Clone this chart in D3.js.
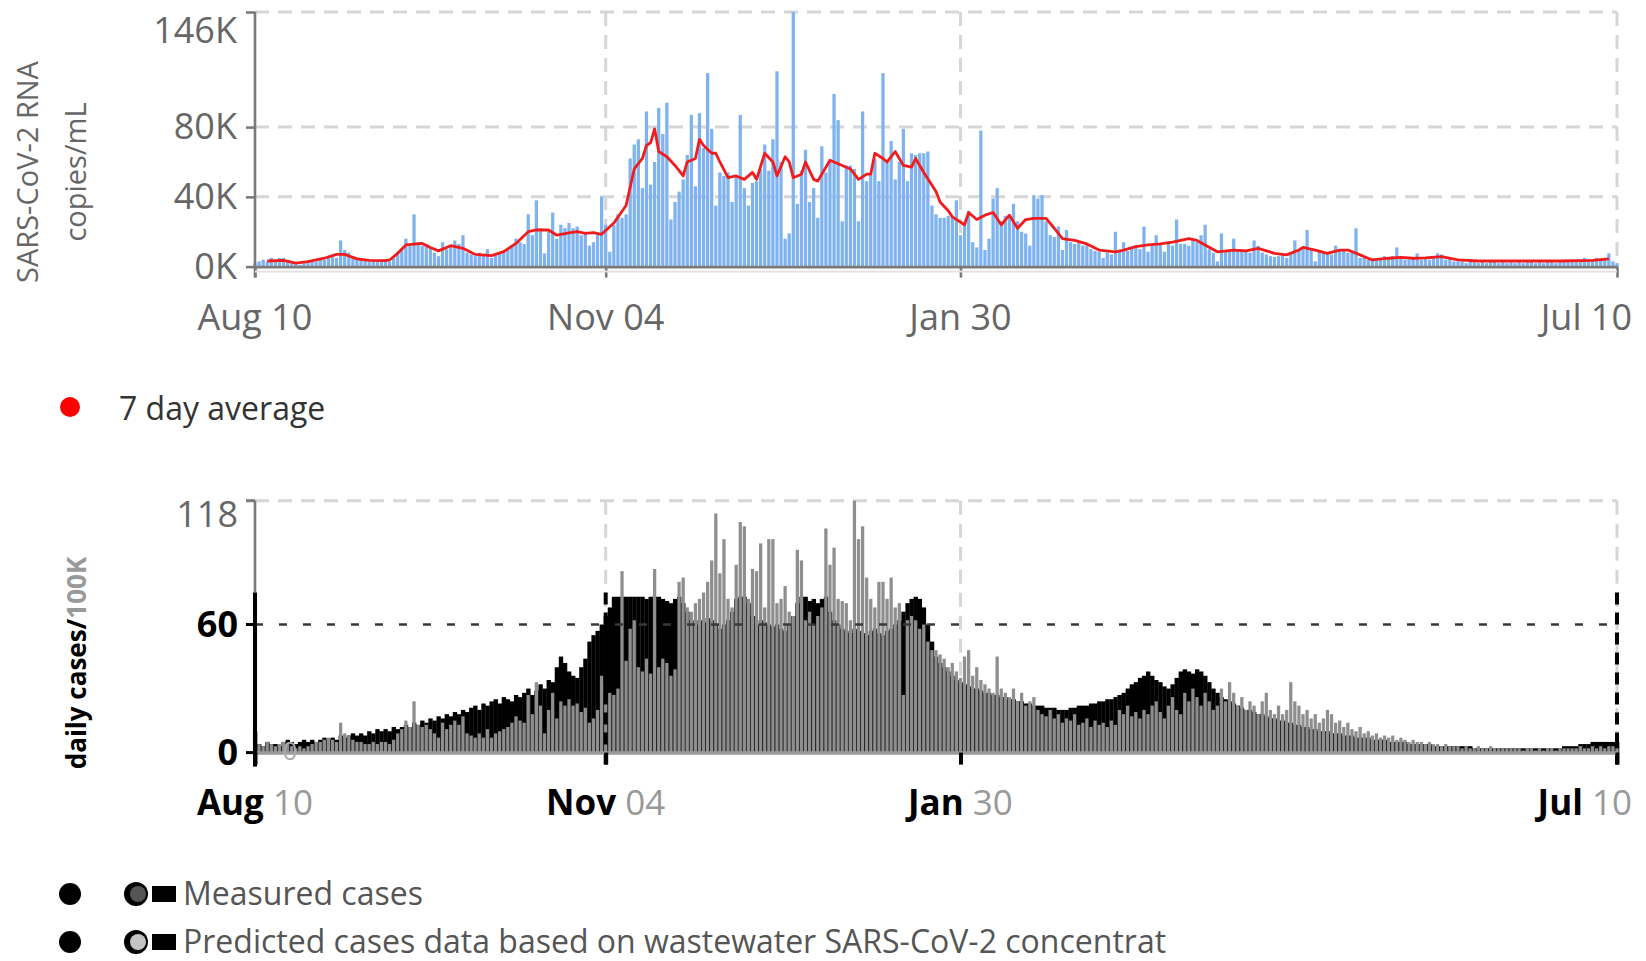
<!DOCTYPE html>
<html><head><meta charset="utf-8">
<script src="https://cdn.jsdelivr.net/npm/d3@7"></script>
<style>
body{margin:0;background:#fff}
svg{display:block}
text{font-family:"Open Sans","Noto Sans",sans-serif}
</style>
</head><body>
<svg id="c" width="1646" height="961"></svg>
<script>
// ---------- DATA ----------
const startDate = new Date(2020, 7, 10);
const endDate = new Date(2021, 6, 10);
const xTickDates = [new Date(2020, 7, 10), new Date(2020, 10, 4), new Date(2021, 0, 30), new Date(2021, 6, 10)];
const xTickLabels = ["Aug 10", "Nov 04", "Jan 30", "Jul 10"];

const rnaTicksK = [0, 40, 80, 146];
const rnaTickLabels = ["0K", "40K", "80K", "146K"];

// daily SARS-CoV-2 RNA (thousand copies/mL), Aug 10 2020 .. Jul 10 2021
const rnaDailyK = [
  2, 3, 4, 3, 5, 4, 5,
  5, 3, 2, 2, 1, 2, 2,
  3, 3, 4, 4, 5, 6, 5,
  15, 9.5, 8, 6, 5, 4, 4,
  3, 4, 3, 4, 4, 3, 5,
  8.5, 10, 16, 12, 30, 14, 12,
  13, 11, 8, 6, 14, 10, 12,
  15, 13, 18, 8, 7, 6, 8,
  6, 10, 5, 7, 8, 9, 10,
  12, 16, 14, 13, 30, 18, 38,
  22, 7.6, 20, 31, 16, 24, 22,
  25, 22, 23, 18, 20, 12, 14,
  19, 40, 24, 8.5, 24, 30, 28,
  30, 62, 70, 73, 45, 89, 47,
  60, 91, 76, 94, 27, 37, 43,
  50, 64, 87, 46, 88, 68, 111,
  79, 35, 54, 52, 54, 37, 52,
  87, 45, 35, 48, 49, 56, 70,
  55, 73, 112, 60, 16, 19, 146,
  36, 55, 67, 37, 45, 28, 69,
  54, 60, 99, 84, 26, 58, 58,
  56, 26, 89, 49, 53, 62, 49,
  111, 60, 72, 50, 60, 79, 49,
  65, 64, 65, 65, 66, 35, 30,
  28, 28, 29, 28, 38, 18, 25,
  32, 14, 11, 78, 9.5, 16, 39,
  45, 26, 29, 29, 36, 26, 20,
  19, 12, 41, 39, 41, 26, 18,
  17, 23, 9.5, 21, 14, 13, 14,
  12, 13, 10, 9, 8.5, 5, 8,
  7, 20, 9, 14, 9, 11, 12,
  10, 23, 8.5, 12, 18, 13, 8.5,
  14, 12, 27, 13, 13, 12, 16,
  14, 18, 24, 10, 8, 3, 19,
  9, 8.5, 16, 9, 10, 9, 8,
  15, 12, 8, 7, 6, 5.5, 6,
  7, 5, 8, 15, 10, 11, 21,
  10, 3, 9, 8, 8, 7, 12,
  9, 10, 8, 8, 22, 5, 5,
  4, 5, 4, 5, 6, 5, 6,
  11, 5, 4, 4, 5, 7.6, 4,
  5, 4, 5, 7.6, 7, 4, 5,
  3, 3, 3, 2, 3, 3, 2,
  3, 2, 3, 3, 2, 3, 2,
  3, 2, 3, 2, 3, 3, 2,
  3, 2, 3, 3, 2, 3, 3,
  3, 4, 3, 4, 5, 4, 4,
  5, 4, 5, 7.6, 3, 2
];

// 7 day average (day offset from Aug 10, value in K)
const avgDays = [3, 7, 10, 13, 17, 20, 22, 25, 28, 32, 33, 35, 37, 41, 43, 45, 48, 51, 54, 58, 61, 64, 67, 69, 72, 74, 77, 79, 81, 83, 85, 88, 91, 93, 95, 96, 97, 98, 99, 101, 103, 105, 106, 108, 109, 110, 112, 113, 114, 116, 118, 120, 122, 123, 125, 127, 128, 130, 131, 132, 134, 135, 137, 138, 141, 144, 146, 148, 150, 151, 152, 154, 155, 157, 159, 161, 162, 164, 167, 168, 170, 171, 174, 175, 177, 179, 181, 183, 185, 187, 189, 191, 194, 196, 198, 201, 204, 207, 211, 213, 216, 219, 222, 225, 229, 231, 233, 236, 240, 243, 246, 250, 253, 256, 257, 260, 263, 266, 268, 271, 274, 278, 281, 284, 287, 291, 295, 300, 310, 320, 328, 332];
const avgValuesK = [3.2, 3.6, 2, 2.9, 4.8, 7, 7, 4.4, 3.6, 3.4, 3.8, 7.6, 12.4, 13.3, 11, 9, 12, 10.5, 7, 6.3, 8.6, 13.3, 20, 21, 21, 18, 19.4, 20, 19, 19.5, 18.5, 25, 35, 56, 62, 69.5, 71, 79, 66, 63, 58, 52, 60, 62, 73, 69.5, 65, 65, 60, 51, 52, 50, 54, 50, 65, 60, 52, 63, 60, 51, 53, 60, 50, 49, 61, 58, 56, 50, 53, 53, 65, 62, 60, 66, 58, 57, 62, 54, 43, 37, 32, 28.5, 24, 31, 27, 29.5, 31, 24, 29.5, 22, 27, 27.6, 27.6, 22, 16, 15, 13, 9.5, 8.5, 9.5, 11.4, 12.4, 13, 14, 16, 15, 12.4, 8.5, 9.5, 9, 10.5, 7.6, 6.7, 9.5, 11, 9.5, 7.6, 9.5, 9.5, 6.7, 3.8, 4.8, 5.3, 4.8, 5, 5.7, 3.8, 3.2, 3.2, 3.2, 3.6, 4.4];

const caseTicks = [0, 60, 118];

// daily cases per 100K (measured), Aug 10 2020 .. Jul 10 2021
const measuredCases = [
  10, 4, 3, 5, 4, 4, 3,
  5, 6, 5, 4, 5, 6, 5,
  6, 5, 6, 7, 6, 7, 6,
  8, 7, 8, 9, 8, 9, 8,
  10, 9, 11, 10, 11, 10, 12,
  11, 12, 13, 12, 14, 13, 15,
  14, 16, 15, 17, 16, 18, 17,
  19, 18, 20, 19, 21, 22, 20,
  23, 22, 24, 25, 23, 26, 25,
  24, 27, 26, 28, 30, 27, 29,
  32, 30, 34, 33, 40, 45, 42,
  38, 36, 35, 40, 44, 52, 55,
  57, 60, 64, 68, 73, 73, 73,
  73, 73, 73, 73, 73, 72, 73,
  73, 73, 72, 71, 70, 72, 73,
  70, 66, 62, 60, 62, 61, 63,
  62, 60, 58, 60, 62, 66, 72,
  73, 73, 70, 64, 60, 62, 61,
  60, 59, 60, 58, 57, 60, 64,
  70, 73, 73, 71, 72, 70, 72,
  73, 66, 62, 60, 58, 57, 56,
  58, 57, 56, 55, 57, 58, 56,
  55, 57, 58, 60, 62, 66, 70,
  72, 73, 72, 68, 60, 52, 45,
  42, 40, 38, 36, 34, 33, 32,
  31, 30, 30, 29, 28, 28, 27,
  27, 26, 26, 25, 25, 24, 24,
  23, 23, 22, 22, 22, 21, 21,
  21, 20, 20, 20, 21, 21, 22,
  22, 22, 23, 23, 24, 24, 25,
  25, 26, 27, 28, 30, 32, 33,
  35, 36, 38, 36, 34, 33, 31,
  30, 32, 35, 38, 39, 38, 37,
  39, 38, 36, 33, 30, 28, 26,
  25, 24, 23, 22, 21, 20, 20,
  19, 18, 18, 17, 16, 16, 15,
  15, 14, 14, 13, 13, 12, 12,
  11, 11, 10, 10, 10, 9, 9,
  9, 8, 8, 8, 7, 7, 7,
  7, 6, 6, 6, 6, 5, 5,
  5, 5, 5, 4, 4, 4, 4,
  4, 4, 3, 3, 3, 3, 3,
  3, 3, 3, 3, 3, 2, 2,
  2, 2, 2, 2, 2, 2, 2,
  2, 2, 2, 2, 2, 2, 2,
  2, 2, 2, 2, 2, 2, 3,
  3, 3, 3, 4, 4, 4, 5,
  5, 5, 5, 5, 5, 5
];

// daily cases per 100K predicted from wastewater
const predictedCases = [
  3, 4, 3, 5, 4, 3, 4,
  5, 4, 3, 2, 3, 2, 3,
  4, 5, 5, 6, 7, 6, 5,
  14, 9, 8, 6, 5, 5, 4,
  4, 5, 4, 5, 5, 4, 6,
  9, 11, 15, 12, 24, 13, 12,
  13, 11, 9, 7, 14, 11, 13,
  15, 13, 17, 9, 8, 7, 9,
  7, 11, 7, 9, 10, 11, 12,
  14, 17, 15, 14, 27, 18, 33,
  22, 9, 20, 28, 16, 24, 22,
  25, 22, 23, 19, 21, 14, 16,
  20, 36, 24, 28, 27, 30, 85,
  43, 58, 62, 40, 38, 44, 37,
  86, 40, 44, 42, 36, 39, 80,
  82, 68, 66, 70, 72, 75, 80,
  90, 112, 84, 100, 72, 68, 88,
  108, 106, 72, 86, 85, 98, 68,
  100, 100, 70, 72, 78, 66, 64,
  95, 90, 62, 66, 60, 64, 68,
  105, 88, 96, 72, 71, 70, 62,
  118, 100, 106, 82, 72, 68, 80,
  80, 72, 82, 68, 70, 27, 62,
  64, 62, 58, 60, 52, 48, 48,
  46, 44, 40, 42, 38, 35, 45,
  48, 36, 40, 34, 32, 30, 28,
  45, 30, 28, 26, 30, 24, 28,
  22, 24, 26, 20, 18, 17, 20,
  16, 18, 14, 16, 15, 18, 13,
  14, 16, 12, 15, 13, 14, 12,
  15, 13, 20, 18, 22, 17, 19,
  16, 20, 18, 22, 24, 19, 16,
  22, 26, 20, 18, 28, 24, 30,
  26, 22, 28, 24, 20, 22, 30,
  24, 33, 28, 22, 26, 20, 24,
  22, 18, 24, 28, 20, 18, 22,
  18, 20, 33, 24, 22, 18, 20,
  16, 18, 14, 16, 20, 18, 14,
  15, 12, 14, 11, 10, 12, 9,
  10, 8, 9, 7, 8, 7, 8,
  6, 7, 6, 5, 6, 5, 5,
  4, 5, 4, 4, 3, 4, 3,
  3, 3, 2, 3, 2, 2, 3,
  2, 2, 3, 2, 2, 2, 2,
  2, 2, 2, 1, 2, 2, 1,
  2, 1, 2, 2, 1, 2, 2,
  2, 2, 2, 3, 2, 2, 3,
  2, 3, 2, 3, 3, 2
];

const legendTop = ["7 day average"];
const legendBottom = ["Measured cases", "Predicted cases data based on wastewater SARS-CoV-2 concentrat"];

// ---------- DRAW ----------
const svg = d3.select("#c");
const dayDate = i => d3.timeDay.offset(startDate, i);
const x = d3.scaleTime().domain([startDate, endDate]).range([255, 1617]);
const step = x(dayDate(1)) - x(dayDate(0));
const GRID = "#d6d6d6", AXIS = "#7a7a7a", TXT = "#666";

// ======= TOP CHART =======
const yT = d3.scaleLinear().domain([0, 146]).range([266.6, 12]);
const gT = svg.append("g");

gT.selectAll("line.hg").data(rnaTicksK.slice(1)).join("line")
  .attr("x1", x.range()[0]).attr("x2", x.range()[1])
  .attr("y1", d => yT(d)).attr("y2", d => yT(d))
  .attr("stroke", GRID).attr("stroke-width", 3).attr("stroke-dasharray", "14 9");
gT.selectAll("line.vg").data(xTickDates.slice(1)).join("line")
  .attr("x1", d => x(d)).attr("x2", d => x(d))
  .attr("y1", yT(146)).attr("y2", yT(0))
  .attr("stroke", GRID).attr("stroke-width", 3).attr("stroke-dasharray", "14 9");

gT.append("g").selectAll("rect").data(rnaDailyK).join("rect")
  .attr("x", (d, i) => x(dayDate(i)) - step * 0.4)
  .attr("width", step * 0.8)
  .attr("y", d => yT(d))
  .attr("height", d => yT(0) - yT(d))
  .attr("fill", "#7fb3f0");

const avgPts = avgDays.map((d, i) => [d, avgValuesK[i]]);
gT.append("path").datum(avgPts)
  .attr("d", d3.line().x(p => x(dayDate(p[0]))).y(p => yT(p[1])))
  .attr("fill", "none").attr("stroke", "#f21c1c").attr("stroke-width", 2.8)
  .attr("stroke-linejoin", "round");

const axL = gT.append("g").attr("transform", `translate(${x.range()[0]},0)`)
  .call(d3.axisLeft(yT).tickValues(rnaTicksK).tickFormat((d, i) => rnaTickLabels[i]).tickSize(9).tickSizeOuter(0).tickPadding(9));
const axB = gT.append("g").attr("transform", `translate(0,${yT(0)})`)
  .call(d3.axisBottom(x).tickValues(xTickDates).tickFormat("").tickSize(11).tickSizeOuter(0));
[axL, axB].forEach(a => {
  a.select(".domain").attr("stroke", AXIS).attr("stroke-width", 2.6);
  a.selectAll(".tick line").attr("stroke", AXIS).attr("stroke-width", 2.6);
});
gT.append("line").attr("x1", x.range()[0]).attr("x2", x.range()[1])
  .attr("y1", yT(0) + 5).attr("y2", yT(0) + 5).attr("stroke", "#e2e2e2").attr("stroke-width", 2);
axL.select(".domain").attr("d", `M0,${yT(146)}V${yT(0) + 11}`);
axL.selectAll(".tick text").attr("fill", TXT).attr("font-size", 36)
  .style("font-family", '"Open Sans",sans-serif')
  .attr("dy", d => d === 146 ? "0.85em" : "0.32em");

gT.selectAll("text.xl").data(xTickDates).join("text")
  .attr("x", (d, i) => i === 3 ? x(d) + 15 : x(d))
  .attr("y", 330)
  .attr("text-anchor", (d, i) => i === 3 ? "end" : "middle")
  .attr("fill", TXT).attr("font-size", 36)
  .text((d, i) => xTickLabels[i]);

gT.append("text").attr("transform", "translate(28,172) rotate(-90)")
  .attr("text-anchor", "middle").attr("fill", TXT).attr("font-size", 29).attr("dy", "0.35em").text("SARS-CoV-2 RNA");
gT.append("text").attr("transform", "translate(76,172) rotate(-90)")
  .attr("text-anchor", "middle").attr("fill", TXT).attr("font-size", 29).attr("dy", "0.35em").text("copies/mL");

svg.append("circle").attr("cx", 70).attr("cy", 407).attr("r", 10).attr("fill", "#ff0000");
svg.append("text").attr("x", 119).attr("y", 420).attr("fill", "#333").attr("font-size", 32).text(legendTop[0]);

// ======= BOTTOM CHART =======
const yB = d3.scaleLinear().domain([0, 118]).range([752.6, 500.7]);
const gB = svg.append("g");
const CROP = 75;

gB.append("line").attr("x1", x.range()[0]).attr("x2", x.range()[1])
  .attr("y1", yB(118)).attr("y2", yB(118))
  .attr("stroke", GRID).attr("stroke-width", 3).attr("stroke-dasharray", "14 9");
gB.selectAll("line.vg").data(xTickDates.slice(1)).join("line")
  .attr("x1", d => x(d)).attr("x2", d => x(d))
  .attr("y1", yB(118)).attr("y2", yB(0))
  .attr("stroke", GRID).attr("stroke-width", 3).attr("stroke-dasharray", "14 9");

gB.append("g").selectAll("rect").data(measuredCases).join("rect")
  .attr("x", (d, i) => x(dayDate(i)) - step * 0.5)
  .attr("width", step + 0.3)
  .attr("y", d => yB(d))
  .attr("height", d => yB(0) - yB(d))
  .attr("fill", "#000");

gB.append("g").selectAll("rect").data(predictedCases).join("rect")
  .attr("x", (d, i) => x(dayDate(i)) - step * 0.4)
  .attr("width", step * 0.8)
  .attr("y", d => yB(d))
  .attr("height", d => yB(0) - yB(d))
  .attr("fill", "#8e8e8e");

gB.append("line").attr("x1", x.range()[0]).attr("x2", x.range()[1])
  .attr("y1", yB(60)).attr("y2", yB(60))
  .attr("stroke", "#3a3a3a").attr("stroke-width", 2.4).attr("stroke-dasharray", "8 16");
gB.selectAll("line.vd").data([xTickDates[1], xTickDates[3]]).join("line")
  .attr("x1", d => x(d)).attr("x2", d => x(d))
  .attr("y1", yB(CROP)).attr("y2", yB(0) + 12)
  .attr("stroke", "#000").attr("stroke-width", 4).attr("stroke-dasharray", "12 8");

const axB2 = gB.append("g").attr("transform", `translate(0,${yB(0)})`)
  .call(d3.axisBottom(x).tickValues(xTickDates).tickFormat("").tickSize(12).tickSizeOuter(0));
axB2.select(".domain").attr("stroke", "#9a9a9a").attr("stroke-width", 3.5);
axB2.selectAll(".tick line").attr("stroke", "#000").attr("stroke-width", 4);

gB.append("line").attr("x1", 255).attr("x2", 255).attr("y1", yB(118)).attr("y2", yB(CROP))
  .attr("stroke", AXIS).attr("stroke-width", 2.6);
gB.append("line").attr("x1", 255).attr("x2", 255).attr("y1", yB(CROP)).attr("y2", yB(0) + 14)
  .attr("stroke", "#000").attr("stroke-width", 4);
gB.selectAll("line.yt").data(caseTicks).join("line")
  .attr("x1", 246).attr("x2", 255).attr("y1", d => yB(d)).attr("y2", d => yB(d))
  .attr("stroke", d => d === 118 ? AXIS : "#000").attr("stroke-width", 3);
gB.selectAll("text.yl").data(caseTicks).join("text")
  .attr("x", 238).attr("y", d => d === 118 ? yB(d) + 14 : yB(d)).attr("dy", "0.35em")
  .attr("text-anchor", "end")
  .attr("fill", d => d === 118 ? TXT : "#000")
  .attr("font-weight", d => d === 118 ? 400 : 700)
  .attr("font-size", 36)
  .text(d => d);
gB.append("text").attr("x", 290).attr("y", yB(0) - 2).attr("dy", "0.35em")
  .attr("text-anchor", "middle").attr("fill", "#aaa").attr("font-size", 26).text(caseTicks[0]);

gB.selectAll("text.xl").data(xTickDates).join("text")
  .attr("x", (d, i) => i === 3 ? x(d) + 15 : x(d))
  .attr("y", 815)
  .attr("text-anchor", (d, i) => i === 3 ? "end" : "middle")
  .attr("font-size", 35)
  .each(function (d, i) {
    const parts = xTickLabels[i].split(" ");
    const t = d3.select(this);
    t.append("tspan").attr("fill", "#000").attr("font-weight", 700).text(parts[0] + " ");
    t.append("tspan").attr("fill", "#999").text(parts[1]);
  });

const yt2 = gB.append("text").attr("transform", "translate(77,663) rotate(-90)")
  .attr("text-anchor", "middle").attr("font-size", 26).attr("dy", "0.35em");
yt2.append("tspan").attr("fill", "#000").attr("font-weight", 700).text("daily cases/");
yt2.append("tspan").attr("fill", "#999").attr("font-weight", 700).text("100K");

const legY = [894, 942];
const legFill = ["#555", "#c4c4c4"];
legendBottom.forEach((lab, i) => {
  const g = svg.append("g");
  g.append("circle").attr("cx", 70).attr("cy", legY[i]).attr("r", 11).attr("fill", "#000");
  g.append("circle").attr("cx", 136).attr("cy", legY[i]).attr("r", 12).attr("fill", "#000");
  g.append("circle").attr("cx", 138).attr("cy", legY[i]).attr("r", 8).attr("fill", legFill[i]);
  g.append("rect").attr("x", 152).attr("y", legY[i] - 8).attr("width", 24).attr("height", 16).attr("fill", "#000");
  g.append("text").attr("x", 183).attr("y", legY[i]).attr("dy", "0.35em")
    .attr("fill", "#555").attr("font-size", 32).text(lab);
});
</script>
</body></html>
